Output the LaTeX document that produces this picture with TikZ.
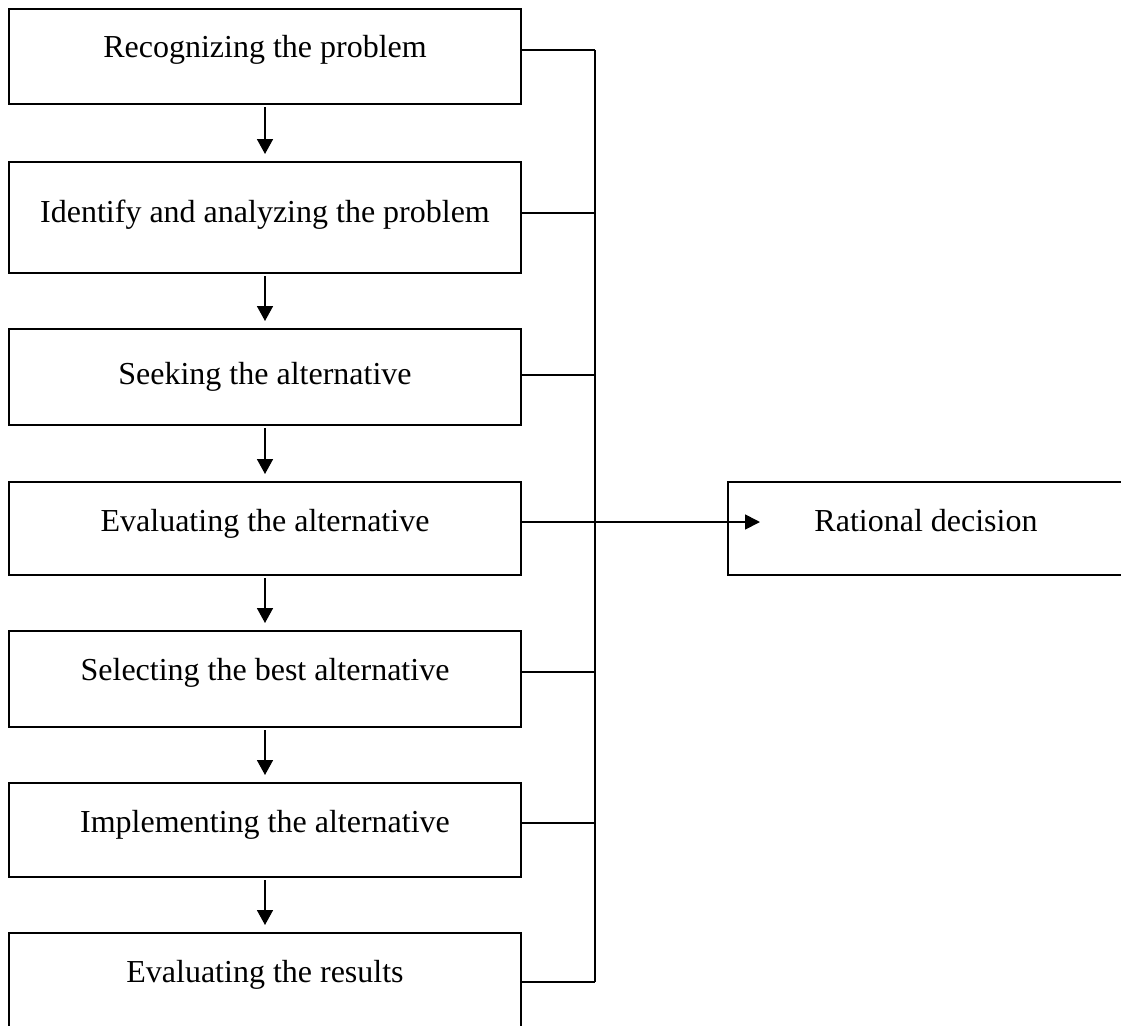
\documentclass[tikz,border=0pt]{standalone}
\usepackage{fontspec}
\setmainfont{Liberation Serif}
\usetikzlibrary{arrows.meta}
\begin{document}
\begin{tikzpicture}[x=1pt,y=-1pt,
  boxnode/.style={draw, line width=2pt, rectangle, minimum width=512pt, inner sep=0pt},
  lbl/.style={anchor=base, inner sep=0pt, font=\fontsize{32}{38}\selectfont},
  conn/.style={line width=2pt},
  downarrow/.style={line width=1.7pt, -{Triangle[length=15pt,width=16pt]}, shorten <=2pt, shorten >=7pt},
  sidearrow/.style={line width=1.7pt, -{Triangle[length=15pt,width=15pt]}}]
\useasboundingbox (0,0) rectangle (1121,1025);
\clip (0,0) rectangle (1121,1025);
% boxes
\node[boxnode, minimum height=95pt]  (b1) at (265,56.5) {};
\node[boxnode, minimum height=111pt] (b2) at (265,217.5) {};
\node[boxnode, minimum height=96pt]  (b3) at (265,377) {};
\node[boxnode, minimum height=93pt]  (b4) at (265,528.5) {};
\node[boxnode, minimum height=96pt]  (b5) at (265,679) {};
\node[boxnode, minimum height=94pt]  (b6) at (265,830) {};
\node[boxnode, minimum height=97pt]  (b7) at (265,981.5) {};
\node[draw, line width=2pt, rectangle, minimum width=402pt, minimum height=93pt, inner sep=0pt] (rd) at (929,528.5) {};
% texts
\node[lbl] (t1) at (265,58) {Recognizing the problem};
\node[lbl] (t2) at (265,222) {Identify and analyzing the problem};
\node[lbl] (t3) at (265,384) {Seeking the alternative};
\node[lbl] (t4) at (265,531) {Evaluating the alternative};
\node[lbl] (t5) at (265,680) {Selecting the best alternative};
\node[lbl] (t6) at (265,832) {Implementing the alternative};
\node[lbl] (t7) at (265,982) {Evaluating the results};
\node[lbl] (trd) at (926,531) {Rational decision};
% connector y positions
\coordinate (c1) at (595,50);
\coordinate (c2) at (595,213);
\coordinate (c3) at (595,375);
\coordinate (c4) at (595,522);
\coordinate (c5) at (595,672);
\coordinate (c6) at (595,823);
\coordinate (c7) at (595,982);
\coordinate (tip) at (760,522);
% vertical line
\draw[conn] (c1) -- (c7);
% horizontal connectors
\draw[conn] (b1.east |- c1) -- (c1);
\draw[conn] (b2.east |- c2) -- (c2);
\draw[conn] (b3.east |- c3) -- (c3);
\draw[sidearrow] (b4.east |- c4) -- (tip);
\draw[conn] (b5.east |- c5) -- (c5);
\draw[conn] (b6.east |- c6) -- (c6);
\draw[conn] (b7.east |- c7) -- (c7);
% down arrows
\draw[downarrow] (b1.south) -- (b2.north);
\draw[downarrow] (b2.south) -- (b3.north);
\draw[downarrow] (b3.south) -- (b4.north);
\draw[downarrow] (b4.south) -- (b5.north);
\draw[downarrow] (b5.south) -- (b6.north);
\draw[downarrow] (b6.south) -- (b7.north);
\end{tikzpicture}
\end{document}
